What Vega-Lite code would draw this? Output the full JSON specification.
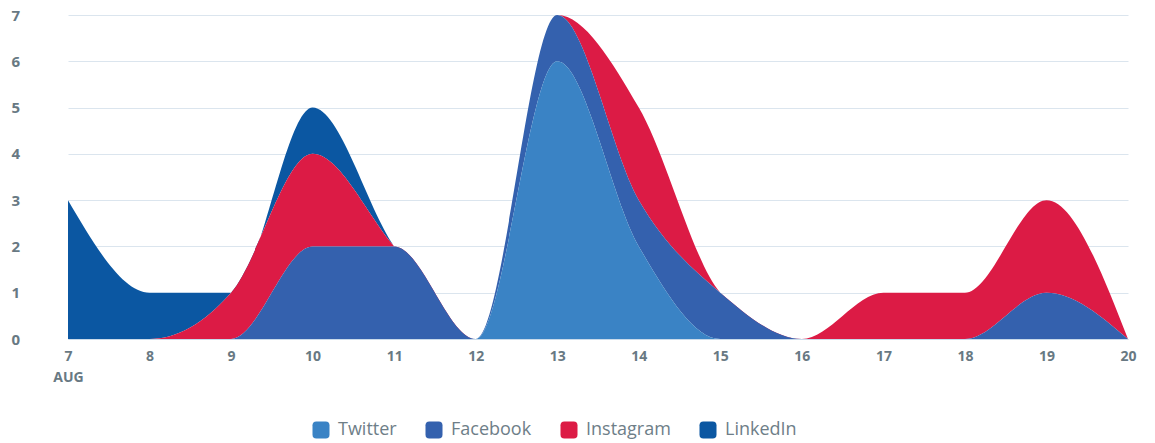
{
  "$schema": "https://vega.github.io/schema/vega-lite/v6.json",
  "width": 1060,
  "height": 324,
  "autosize": "none",
  "padding": {"left": 68, "top": 15, "right": 27, "bottom": 104},
  "background": "white",
  "config": {"view": {"stroke": null}, "font": "Open Sans"},
  "data": {
    "values": [
      {"day": 7, "series": "LinkedIn", "value": 3},
      {"day": 7, "series": "Instagram", "value": 0},
      {"day": 7, "series": "Facebook", "value": 0},
      {"day": 7, "series": "Twitter", "value": 0},
      {"day": 8, "series": "LinkedIn", "value": 1},
      {"day": 8, "series": "Instagram", "value": 0},
      {"day": 8, "series": "Facebook", "value": 0},
      {"day": 8, "series": "Twitter", "value": 0},
      {"day": 9, "series": "LinkedIn", "value": 0},
      {"day": 9, "series": "Instagram", "value": 1},
      {"day": 9, "series": "Facebook", "value": 0},
      {"day": 9, "series": "Twitter", "value": 0},
      {"day": 10, "series": "LinkedIn", "value": 1},
      {"day": 10, "series": "Instagram", "value": 2},
      {"day": 10, "series": "Facebook", "value": 2},
      {"day": 10, "series": "Twitter", "value": 0},
      {"day": 11, "series": "LinkedIn", "value": 0},
      {"day": 11, "series": "Instagram", "value": 0},
      {"day": 11, "series": "Facebook", "value": 2},
      {"day": 11, "series": "Twitter", "value": 0},
      {"day": 12, "series": "LinkedIn", "value": 0},
      {"day": 12, "series": "Instagram", "value": 0},
      {"day": 12, "series": "Facebook", "value": 0},
      {"day": 12, "series": "Twitter", "value": 0},
      {"day": 13, "series": "LinkedIn", "value": 0},
      {"day": 13, "series": "Instagram", "value": 0},
      {"day": 13, "series": "Facebook", "value": 1},
      {"day": 13, "series": "Twitter", "value": 6},
      {"day": 14, "series": "LinkedIn", "value": 0},
      {"day": 14, "series": "Instagram", "value": 2},
      {"day": 14, "series": "Facebook", "value": 1},
      {"day": 14, "series": "Twitter", "value": 2},
      {"day": 15, "series": "LinkedIn", "value": 0},
      {"day": 15, "series": "Instagram", "value": 0},
      {"day": 15, "series": "Facebook", "value": 1},
      {"day": 15, "series": "Twitter", "value": 0},
      {"day": 16, "series": "LinkedIn", "value": 0},
      {"day": 16, "series": "Instagram", "value": 0},
      {"day": 16, "series": "Facebook", "value": 0},
      {"day": 16, "series": "Twitter", "value": 0},
      {"day": 17, "series": "LinkedIn", "value": 0},
      {"day": 17, "series": "Instagram", "value": 1},
      {"day": 17, "series": "Facebook", "value": 0},
      {"day": 17, "series": "Twitter", "value": 0},
      {"day": 18, "series": "LinkedIn", "value": 0},
      {"day": 18, "series": "Instagram", "value": 1},
      {"day": 18, "series": "Facebook", "value": 0},
      {"day": 18, "series": "Twitter", "value": 0},
      {"day": 19, "series": "LinkedIn", "value": 0},
      {"day": 19, "series": "Instagram", "value": 2},
      {"day": 19, "series": "Facebook", "value": 1},
      {"day": 19, "series": "Twitter", "value": 0},
      {"day": 20, "series": "LinkedIn", "value": 0},
      {"day": 20, "series": "Instagram", "value": 0},
      {"day": 20, "series": "Facebook", "value": 0},
      {"day": 20, "series": "Twitter", "value": 0}
    ]
  },
  "transform": [
    {"calculate": "indexof(['Twitter', 'Facebook', 'Instagram', 'LinkedIn'], datum.series)", "as": "stackOrder"}
  ],
  "mark": {"type": "area", "interpolate": "monotone"},
  "encoding": {
    "x": {
      "field": "day",
      "type": "quantitative",
      "scale": {"domain": [7, 20], "nice": false, "zero": false},
      "axis": {
        "title": null,
        "values": [7, 8, 9, 10, 11, 12, 13, 14, 15, 16, 17, 18, 19, 20],
        "labelExpr": "datum.value == 7 ? ['7', 'AUG'] : datum.label",
        "grid": false,
        "ticks": false,
        "domain": true,
        "domainColor": "#c9daea",
        "labelFont": "Open Sans",
        "labelFontWeight": "bold",
        "labelFontSize": 14,
        "labelColor": "#687983",
        "labelPadding": 10,
        "labelLineHeight": 21,
        "labelFlush": false,
        "labelOverlap": false
      }
    },
    "y": {
      "field": "value",
      "type": "quantitative",
      "stack": "zero",
      "scale": {"domain": [0, 7], "nice": false},
      "axis": {
        "title": null,
        "values": [0, 1, 2, 3, 4, 5, 6, 7],
        "grid": true,
        "gridColor": "#dbe5ee",
        "gridWidth": 1,
        "domain": false,
        "ticks": false,
        "labelAlign": "left",
        "labelPadding": 57,
        "labelFont": "Open Sans",
        "labelFontWeight": "bold",
        "labelFontSize": 15,
        "labelColor": "#687983"
      }
    },
    "order": {"field": "stackOrder", "type": "quantitative", "sort": "ascending"},
    "color": {
      "field": "series",
      "type": "nominal",
      "sort": ["Twitter", "Facebook", "Instagram", "LinkedIn"],
      "scale": {
        "domain": ["Twitter", "Facebook", "Instagram", "LinkedIn"],
        "range": ["#3a83c5", "#3461ae", "#dc1b45", "#0b57a2"]
      },
      "legend": {
        "title": null,
        "orient": "none",
        "direction": "horizontal",
        "legendX": 244,
        "legendY": 406,
        "padding": 0,
        "symbolType": "M-1,-0.55 Q-1,-1 -0.55,-1 L0.55,-1 Q1,-1 1,-0.55 L1,0.55 Q1,1 0.55,1 L-0.55,1 Q-1,1 -1,0.55 Z",
        "symbolSize": 289,
        "symbolOpacity": 1,
        "symbolStrokeWidth": 0,
        "labelFont": "Open Sans",
        "labelFontSize": 18,
        "labelColor": "#6e7e88",
        "labelOffset": 8,
        "columnPadding": 28
      }
    }
  }
}
